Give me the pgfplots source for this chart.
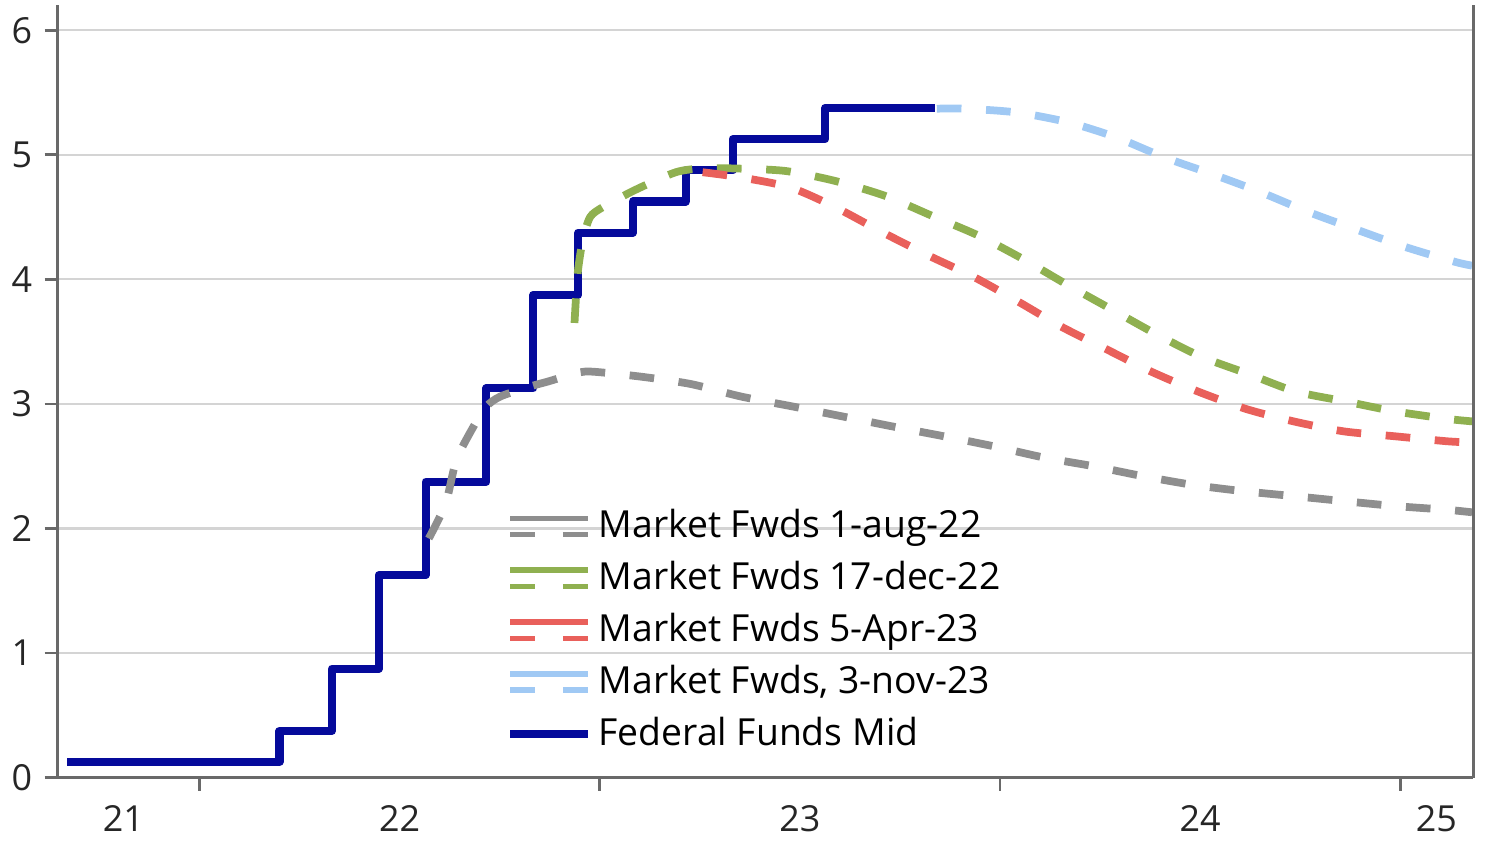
\documentclass[border=0pt]{standalone}
\usepackage{pgfplots}
\pgfplotsset{compat=1.18}
\usepackage{fontspec}
\setmainfont{Open Sans}
\definecolor{fedc}{RGB}{5,10,155}
\definecolor{grayc}{RGB}{142,142,142}
\definecolor{greenc}{RGB}{143,176,80}
\definecolor{redc}{RGB}{233,96,91}
\definecolor{bluec}{RGB}{160,201,244}
\definecolor{axisc}{RGB}{105,105,105}
\definecolor{gridc}{RGB}{212,212,212}
\pgfplotsset{
  fwdlegend/.style={legend image code/.code={
    \draw[##1, solid, line width=1.6pt] (0pt,2.3pt) -- (22pt,2.3pt);
    \draw[##1, line width=1.6pt, dash pattern=on 7pt off 8pt] (0pt,-2.3pt) -- (22pt,-2.3pt);
  }},
  fedlegend/.style={legend image code/.code={
    \draw[##1] (0pt,0pt) -- (22pt,0pt);
  }},
  fwd/.style={line width=2.2pt, dash pattern=on 7pt off 7pt, smooth, tension=0.45, fwdlegend},
}
\begin{document}
\begin{tikzpicture}
\begin{axis}[
  scale only axis,
  width=402.3pt, height=219.5pt,
  xmin=2021.646, xmax=2025.182,
  ymin=0, ymax=6.2,
  axis x line*=bottom, axis y line*=left,
  axis line style={axisc, line width=0.8pt, -},
  xtick={2022,2023,2024,2025}, xticklabels={},
  extra x ticks={2021.81,2022.5,2023.5,2024.5,2025.09},
  extra x tick labels={21,22,23,24,25},
  extra x tick style={major tick length=0pt, xticklabel style={yshift=-4.5pt}},
  ytick={0,1,2,3,4,5,6},
  ymajorgrids, grid style={gridc, line width=0.6pt},
  tick style={axisc, line width=0.8pt},
  tick align=outside, major tick length=3.7pt,
  tick label style={font=\fontsize{10.2}{12}\selectfont, text=black!85},
  /pgf/number format/assume math mode=true,
  clip=false,
  legend style={draw=none, fill=none, at={(rel axis cs:0.3163,0.357)}, anchor=north west,
    font=\fontsize{10.6}{12.5}\selectfont, row sep=1.2pt, inner sep=0pt,
    /tikz/every even column/.append style={column sep=0pt}},
  legend cell align=left,
]
% Federal Funds Mid (drawn first, below the forwards)
\addplot[fedc, line width=2.3pt, const plot, line join=round, forget plot] coordinates {
(2021.67,0.125) (2022.200,0.375) (2022.331,0.875) (2022.448,1.625) (2022.565,2.375)
(2022.717,3.125) (2022.834,3.875) (2022.946,4.375) (2023.083,4.625) (2023.215,4.875)
(2023.332,5.125) (2023.563,5.375) (2023.837,5.375)};
% Market Fwds 1-aug-22
\addplot[grayc, fwd] coordinates {
(2022.573,1.92) (2022.615,2.20) (2022.642,2.55) (2022.685,2.82) (2022.717,2.98)
(2022.752,3.06) (2022.826,3.14) (2022.871,3.18) (2022.934,3.24) (2022.976,3.26)
(2023.100,3.22) (2023.227,3.16) (2023.352,3.06) (2023.481,2.98) (2023.606,2.90)
(2023.730,2.82) (2023.860,2.74) (2023.984,2.66) (2024.109,2.57) (2024.233,2.50)
(2024.357,2.42) (2024.482,2.35) (2024.606,2.30) (2024.733,2.26) (2024.858,2.22)
(2024.987,2.18) (2025.117,2.15) (2025.179,2.13)};
\addlegendentry{Market Fwds 1-aug-22}
% Market Fwds 17-dec-22
\addplot[greenc, fwd] coordinates {
(2022.937,3.65) (2022.945,4.05) (2022.958,4.32) (2022.976,4.50) (2023.008,4.58)
(2023.090,4.72) (2023.190,4.86) (2023.257,4.89) (2023.339,4.89) (2023.464,4.87)
(2023.588,4.79) (2023.713,4.67) (2023.830,4.51) (2023.947,4.35) (2024.059,4.16)
(2024.166,3.96) (2024.278,3.76) (2024.390,3.56) (2024.502,3.38) (2024.621,3.24)
(2024.738,3.10) (2024.863,3.02) (2024.987,2.94) (2025.117,2.88) (2025.179,2.86)};
\addlegendentry{Market Fwds 17-dec-22}
% Market Fwds 5-Apr-23
\addplot[redc, fwd] coordinates {
(2023.257,4.86) (2023.349,4.82) (2023.474,4.74) (2023.588,4.58) (2023.705,4.38)
(2023.822,4.19) (2023.934,4.02) (2024.046,3.82) (2024.153,3.62) (2024.265,3.44)
(2024.377,3.26) (2024.494,3.10) (2024.614,2.96) (2024.733,2.86) (2024.858,2.78)
(2024.987,2.74) (2025.117,2.70) (2025.179,2.69)};
\addlegendentry{Market Fwds 5-Apr-23}
% Market Fwds, 3-nov-23
\addplot[bluec, fwd] coordinates {
(2023.842,5.37) (2023.912,5.37) (2024.041,5.34) (2024.171,5.26) (2024.290,5.14)
(2024.410,4.98) (2024.534,4.84) (2024.651,4.70) (2024.771,4.54) (2024.890,4.40)
(2025.012,4.26) (2025.137,4.14) (2025.179,4.11)};
\addlegendentry{Market Fwds, 3-nov-23}
\addlegendimage{fedc, line width=2.3pt, fedlegend}
\addlegendentry{Federal Funds Mid}
% right spine
\draw[axisc, line width=0.8pt] (rel axis cs:1,0) -- (rel axis cs:1,1);
\end{axis}
\path[use as bounding box] (-15.0pt,-19.8pt) rectangle (409.9pt,221.0pt);
\end{tikzpicture}
\end{document}
